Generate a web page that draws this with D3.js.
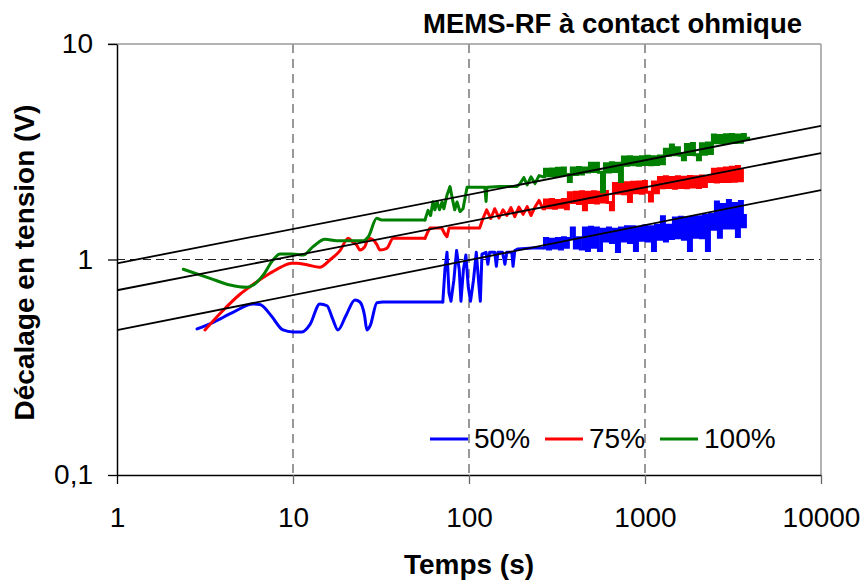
<!DOCTYPE html>
<html><head><meta charset="utf-8">
<script src="https://cdn.jsdelivr.net/npm/d3@7"></script>
<style>
body{margin:0;background:#fff}
text{font-family:"Liberation Sans",Arial,sans-serif;fill:#000}
</style>
</head><body>
<svg id="c" width="866" height="586"></svg>
<script>
// ---------- DATA ----------
const chartTitle = "MEMS-RF à contact ohmique";
const xTitle = "Temps (s)";
const yTitle = "Décalage en tension (V)";
const xTicks = [1, 10, 100, 1000, 10000];
const yTicks = [0.1, 1, 10];
const yTickLabels = ["0,1", "1", "10"];
const xGrid = [10, 100, 1000];
const yGrid = [1];
const seriesNames = ["50%", "75%", "100%"];
const seriesColors = ["#0000ff", "#ff0000", "#008000"];

// early part of each curve: [time (s), voltage shift (V)]
const blueHead = [[2.85,0.476],[3.5,0.51],[4.5,0.565],[5.93,0.622],[6.49,0.618],[7.5,0.55],[8.77,0.471],[10,0.461],[11.25,0.461],[12.5,0.5],[14.2,0.622],[15.6,0.61],[16.8,0.53],[18.0,0.471],[20,0.55],[22.5,0.649],[24.0,0.635],[25.5,0.55],[26.3,0.471],[27.4,0.491],[30.0,0.63],[32.5,0.635],[50,0.635],[71,0.635]];
const blueMid = [[73,0.9],[75,1.08],[77,0.7],[79,0.64],[82,0.8],[85,1.1],[88,0.9],[90,0.64],[93,0.9],[96,1.05],[99,0.75],[102,0.64],[106,0.8],[110,1.08],[114,0.75],[116,0.64],[118.5,1.06],[125,1.08],[128,0.95],[131,1.08],[140,1.08],[143,0.93],[146,1.08],[155,1.08],[160,0.95],[164,1.08],[175,1.08],[178,0.93],[182,1.1],[190,1.12],[230,1.13],[255,1.13]];
const redHead = [[3.16,0.471],[4.0,0.58],[5.0,0.69],[5.70,0.748],[7.40,0.863],[8.5,0.92],[9.83,0.96],[10.5,0.96],[12,0.945],[14.2,0.92],[16.2,0.995],[18.5,1.1],[20.6,1.254],[22,1.2],[23.0,1.168],[24.0,1.107],[25.6,1.147],[26.8,1.254],[28.6,1.232],[30,1.17],[31.2,1.107],[34.1,1.127],[37.1,1.254],[56.2,1.254]];
const redMid = [[58,1.33],[60,1.40],[70,1.40],[73,1.31],[75,1.276],[77,1.40],[115,1.40],[120,1.55],[126,1.70],[133,1.55],[140,1.72],[148,1.56],[156,1.70],[164,1.60],[173,1.74],[182,1.58],[192,1.75],[203,1.62],[214,1.76],[225,1.60],[237,1.75],[250,1.88]];
const greenHead = [[2.38,0.901],[3.38,0.818],[4.39,0.761],[5.46,0.743],[5.95,0.761],[6.78,0.848],[7.73,1.0],[8.44,1.06],[9.83,1.06],[11.45,1.049],[13.0,1.147],[15.2,1.241],[17.7,1.222],[25.1,1.222],[26.8,1.276],[29.9,1.553],[31.9,1.525],[56.2,1.525]];
const greenMid = [[58.5,1.69],[60.5,1.60],[62.4,1.855],[64,1.70],[65.8,1.86],[68,1.70],[70.3,1.85],[72,1.72],[75,1.99],[78,2.18],[81.1,1.85],[83,1.70],[85.5,1.85],[88.9,1.667],[92.5,1.72],[97.5,2.163],[123,2.163],[125,1.86],[126.5,2.163],[150,2.18],[187,2.18],[195,2.25],[205,2.40],[214,2.22],[225,2.42],[237,2.25],[250,2.45]];

// dense (noisy) part: shared sample times and values per series
const denseT = [263,274,285,296,308,320,333,346,360,374,389,405,421,438,456,474,493,513,533,555,577,600,624,649,675,702,730,759,790,821,854,888,924,961,999,1039,1081,1124,1169,1216,1264,1315,1368,1422,1479,1538,1600,1664,1731,1800,1872,1947,2025,2106,2190,2278,2369,2464,2562,2665,2771,2882,2998,3117,3242,3372,3507,3647,3793];
const blueDense = [1.13,1.25,1.12,1.24,1.13,1.25,1.12,1.26,1.14,1.25,1.40,1.13,1.26,1.12,1.40,1.10,1.41,1.14,1.40,1.10,1.38,1.22,1.40,1.20,1.38,1.09,1.40,1.22,1.42,1.20,1.42,1.10,1.41,1.23,1.43,1.22,1.42,1.10,1.44,1.24,1.58,1.22,1.44,1.25,1.56,1.26,1.57,1.24,1.56,1.10,1.57,1.27,1.58,1.26,1.60,1.10,1.62,1.38,1.85,1.27,1.80,1.40,1.88,1.40,1.82,1.28,1.86,1.42,1.60];
const redDense = [1.72,1.89,1.74,1.90,1.73,1.88,1.75,1.90,1.72,2.04,1.84,2.05,1.82,2.06,1.70,2.05,1.84,2.06,1.83,2.05,1.85,2.07,1.84,1.70,2.25,2.03,2.28,2.02,2.27,1.86,2.28,2.04,2.29,2.03,2.30,2.05,1.87,2.29,2.04,2.40,2.15,2.42,2.16,2.40,2.14,2.42,2.16,2.41,2.15,2.43,2.17,2.42,2.16,2.44,2.18,2.43,2.30,2.62,2.29,2.64,2.30,2.66,2.30,2.68,2.31,2.70,2.32,2.60];
const greenDense = [2.42,2.62,2.45,2.63,2.44,2.65,2.47,2.66,2.48,2.30,2.66,2.48,2.67,2.49,2.66,2.55,2.80,2.56,2.80,2.54,2.06,2.78,2.55,2.81,2.56,2.80,2.30,2.99,2.74,3.00,2.75,2.98,2.74,3.00,2.76,3.01,2.75,3.00,2.76,3.02,2.78,3.25,3.05,3.40,3.06,3.30,3.05,2.90,3.42,3.07,3.45,3.06,2.90,3.44,3.08,3.47,3.10,3.78,3.48,3.76,3.47,3.79,3.50,3.80,3.49,3.78,3.50,3.80,3.60];
const greenTail = [[3953,3.65]];

// power-law fit lines (straight in log-log), read at the plot edges
const fitT = [1, 10000];
const fitTop = [0.96, 4.17];
const fitMid = [0.72, 3.12];
const fitLow = [0.47, 2.10];

// ---------- BUILD ----------
const zipDense = (vals) => vals.map((v, i) => [denseT[i], v]);
const heads = [blueHead, redHead, greenHead];
const denses = [zipDense(blueDense), zipDense(redDense), zipDense(greenDense).concat(greenTail)];
const mids = [blueMid, redMid, greenMid].map((m, i) =>
  [heads[i][heads[i].length - 1]].concat(m, [denses[i][0]]));
const fits = [fitTop, fitMid, fitLow].map(vs => vs.map((v, i) => [fitT[i], v]));

const svg = d3.select("#c");
const L = 117, R = 821, T = 44, B = 475;
const x = d3.scaleLog().domain([1, 10000]).range([L, R]);
const y = d3.scaleLog().domain([0.1, 10]).range([B, T]);

// grid
svg.append("g").selectAll("line").data(xGrid).join("line")
  .attr("x1", d => x(d)).attr("x2", d => x(d)).attr("y1", T).attr("y2", B)
  .attr("stroke", "#6e6e6e").attr("stroke-width", 1.4).attr("stroke-dasharray", "9,6");
svg.append("g").selectAll("line").data(yGrid).join("line")
  .attr("x1", L).attr("x2", R).attr("y1", d => y(d)).attr("y2", d => y(d))
  .attr("stroke", "#222").attr("stroke-width", 1.2).attr("stroke-dasharray", "8,5");

// top / right border
svg.append("line").attr("x1", L - 9).attr("x2", R).attr("y1", T).attr("y2", T)
  .attr("stroke", "#9a9a9a").attr("stroke-width", 1.5);
svg.append("line").attr("x1", R).attr("x2", R).attr("y1", T).attr("y2", B)
  .attr("stroke", "#9a9a9a").attr("stroke-width", 1.5);

// data series
const smooth = d3.line().x(d => x(d[0])).y(d => y(d[1])).curve(d3.curveMonotoneX);
const sharp = d3.line().x(d => x(d[0])).y(d => y(d[1]));
const stepped = d3.line().x(d => x(d[0])).y(d => y(d[1])).curve(d3.curveStep);
const gs = svg.append("g").selectAll("g").data(seriesColors).join("g")
  .attr("fill", "none").attr("stroke", c => c).attr("stroke-width", 3)
  .attr("stroke-linejoin", "round").attr("stroke-linecap", "round");
gs.append("path").attr("d", (c, i) => smooth(heads[i]));
gs.append("path").attr("d", (c, i) => sharp(mids[i]));
gs.append("path").attr("d", (c, i) => stepped(denses[i])).attr("stroke-linejoin", "miter").attr("stroke-linecap", "butt");

// fit lines
svg.append("g").selectAll("path").data(fits).join("path")
  .attr("d", sharp).attr("fill", "none").attr("stroke", "#000").attr("stroke-width", 1.8);

// axes
const yAxis = d3.axisLeft(y).tickValues(yTicks)
  .tickFormat((d, i) => yTickLabels[i]).tickSize(9).tickSizeOuter(0).tickPadding(15);
const xAxis = d3.axisBottom(x).tickValues(xTicks)
  .tickFormat(d => String(d)).tickSize(9).tickSizeOuter(0).tickPadding(23);
const gy = svg.append("g").attr("transform", `translate(${L},0)`).call(yAxis);
const gx = svg.append("g").attr("transform", `translate(0,${B})`).call(xAxis);
[gx, gy].forEach(g => {
  g.selectAll("text").attr("font-size", 28).attr("font-family", '"Liberation Sans",Arial,sans-serif').attr("fill", "#000");
  g.select(".domain").attr("stroke", "#000").attr("stroke-width", 1.5);
  g.selectAll(".tick line").attr("stroke", "#000").attr("stroke-width", 1.3);
});
gx.selectAll(".tick line").filter(d => d !== 1).attr("stroke", "#666");

// titles
svg.append("text").attr("x", 802).attr("y", 33).attr("text-anchor", "end")
  .attr("font-size", 27.5).attr("font-weight", "bold").text(chartTitle);
svg.append("text").attr("x", (L + R) / 2).attr("y", 574).attr("text-anchor", "middle")
  .attr("font-size", 28).attr("font-weight", "bold").text(xTitle);
svg.append("text").attr("transform", `translate(34,${(T + B) / 2 + 3}) rotate(-90)`)
  .attr("text-anchor", "middle").attr("font-size", 28).attr("font-weight", "bold").text(yTitle);

// legend
const legX = [430, 545, 660];
const lg = svg.append("g").selectAll("g").data(seriesNames).join("g")
  .attr("transform", (d, i) => `translate(${legX[i]},439)`);
lg.append("line").attr("x1", 0).attr("x2", 38).attr("y1", 0).attr("y2", 0)
  .attr("stroke", (d, i) => seriesColors[i]).attr("stroke-width", 3);
lg.append("text").attr("x", 44).attr("y", 9).attr("font-size", 28).text(d => d);
</script>
</body></html>
